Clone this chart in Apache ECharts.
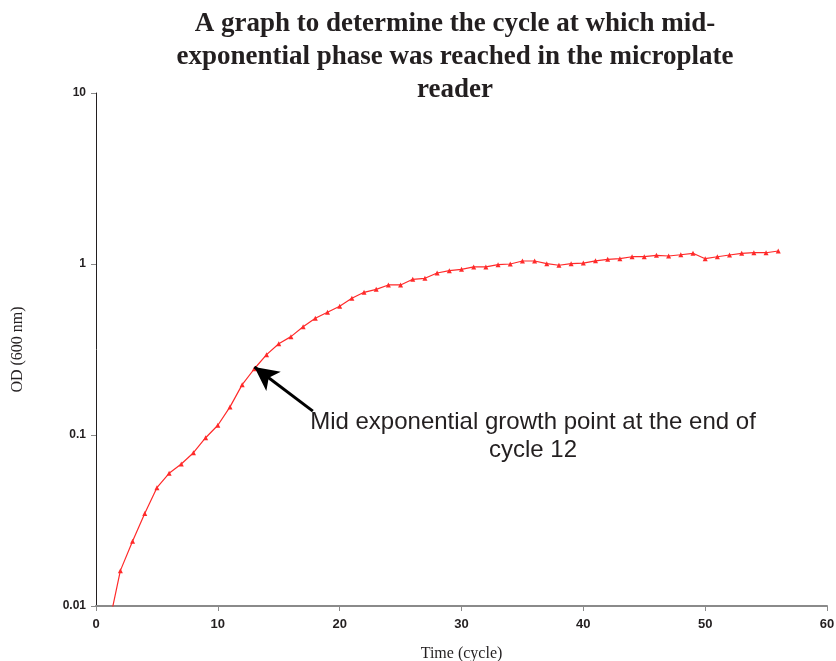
<!DOCTYPE html>
<html>
<head>
<meta charset="utf-8">
<script src="https://cdn.jsdelivr.net/npm/echarts@6/dist/echarts.min.js"></script>
<style>html,body{margin:0;padding:0;background:#fff;}#c{width:836px;height:661px;}</style>
</head>
<body>
<div id="c"></div>
<script>
var cycles = [1,2,3,4,5,6,7,8,9,10,11,12,13,14,15,16,17,18,19,20,21,22,23,24,25,26,27,28,29,30,31,32,33,34,35,36,37,38,39,40,41,42,43,44,45,46,47,48,49,50,51,52,53,54,55,56];
var od = [0.0074,0.0161,0.0239,0.0348,0.0492,0.0597,0.0677,0.0788,0.0964,0.114,0.146,0.197,0.244,0.295,0.342,0.376,0.430,0.482,0.522,0.566,0.630,0.683,0.711,0.754,0.754,0.814,0.825,0.886,0.914,0.931,0.961,0.961,0.991,1.0,1.041,1.041,1.004,0.983,1.004,1.012,1.043,1.065,1.074,1.103,1.103,1.124,1.114,1.133,1.155,1.074,1.103,1.129,1.155,1.164,1.164,1.191];
var yTickLabels = {"0.01":"0.01","0.1":"0.1","1":"1","10":"10"};
var arrowFrom = [17.8, 0.138];
var arrowTo = [13.0, 0.25];

var data = cycles.map(function(c,i){return [c, od[i]];});
var chart = echarts.init(document.getElementById('c'));
chart.setOption({
  animation: false,
  backgroundColor: '#fff',
  title: {
    text: 'A graph to determine the cycle at which mid-\nexponential phase was reached in the microplate\nreader',
    left: 450, top: 3, textAlign: 'center',
    textStyle: {fontFamily: 'Liberation Serif', fontWeight: 'bold', fontSize: 27, lineHeight: 33, color: '#231f20'}
  },
  grid: {left: 96, right: 9, top: 93, bottom: 55, containLabel: false, outerBoundsMode: 'none'},
  xAxis: {
    type: 'value', min: 0, max: 60, interval: 10,
    name: 'Time (cycle)', nameLocation: 'middle', nameGap: 40,
    nameTextStyle: {fontFamily: 'Liberation Serif', fontSize: 16, color: '#231f20'},
    axisLine: {onZero: false, lineStyle: {color: '#8a8a8a', width: 2}},
    axisTick: {inside: false, length: 5, lineStyle: {color: '#8a8a8a'}},
    axisLabel: {fontFamily: 'Liberation Sans', fontWeight: 'bold', fontSize: 13, color: '#231f20', margin: 12},
    splitLine: {show: false}
  },
  yAxis: {
    type: 'log', logBase: 10, min: 0.01, max: 10,
    name: 'OD (600 nm)', nameLocation: 'middle', nameGap: 70, nameRotate: 90,
    nameTextStyle: {fontFamily: 'Liberation Serif', fontSize: 16, color: '#231f20'},
    axisLine: {show: true, lineStyle: {color: '#231f20', width: 1}},
    axisTick: {show: true, inside: false, length: 5, lineStyle: {color: '#8a8a8a'}},
    axisLabel: {fontFamily: 'Liberation Sans', fontWeight: 'bold', fontSize: 12, color: '#231f20', margin: 10,
      formatter: function(v){ var k = String(+v.toPrecision(3)); return yTickLabels[k] !== undefined ? yTickLabels[k] : k; }},
    splitLine: {show: false}
  },
  series: [{
    type: 'line', data: data, clip: true,
    symbol: 'triangle', symbolSize: 5, showSymbol: true,
    lineStyle: {color: '#ff2a2a', width: 1.2},
    itemStyle: {color: '#ff2a2a'},
    markLine: {
      silent: true, symbol: ['none', 'arrow'], symbolSize: [18, 24],
      label: {show: false},
      lineStyle: {color: '#000', width: 3, type: 'solid'},
      data: [[{coord: arrowFrom}, {coord: arrowTo}]]
    }
  }],
  graphic: [{
    type: 'text', x: 533, y: 408,
    style: {text: 'Mid exponential growth point at the end of\ncycle 12',
      font: '24px "Liberation Sans"', fill: '#231f20', lineHeight: 28, align: 'center'}
  }]
});
</script>
</body>
</html>
